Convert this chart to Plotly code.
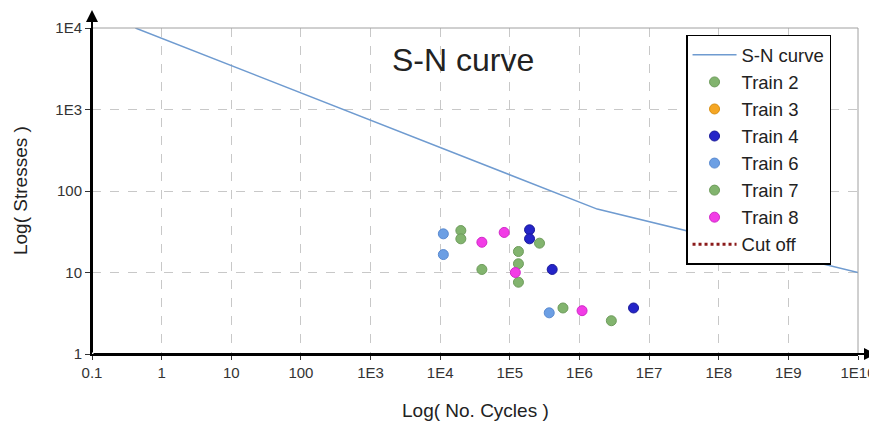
import plotly.graph_objects as go

# S-N curve vertices
sn_cycles = [0.42, 1.8e6, 1e10]
sn_stress = [1e4, 60, 10]

# Train data (cycles, stresses)
train2_cycles = [1.98e4, 1.98e4, 3.97e4, 1.33e5]
train2_stress = [32.7, 25.9, 10.9, 18.1]
train3_cycles = []
train3_stress = []
train4_cycles = [1.92e5, 1.92e5, 4.06e5, 5.98e6]
train4_stress = [33.4, 25.9, 10.9, 3.67]
train6_cycles = [1.11e4, 1.11e4, 3.68e5]
train6_stress = [29.8, 16.6, 3.2]
train7_cycles = [1.33e5, 1.33e5, 2.67e5, 5.8e5, 2.87e6]
train7_stress = [12.8, 7.6, 22.9, 3.67, 2.56]
train8_cycles = [3.97e4, 8.3e4, 1.2e5, 1.09e6]
train8_stress = [23.5, 31.0, 10.0, 3.4]

x_tickvals = [0.1, 1, 10, 100, 1e3, 1e4, 1e5, 1e6, 1e7, 1e8, 1e9, 1e10]
x_ticktext = ["0.1", "1", "10", "100", "1E3", "1E4", "1E5", "1E6", "1E7", "1E8", "1E9", "1E10"]
y_tickvals = [1, 10, 100, 1e3, 1e4]
y_ticktext = ["1", "10", "100", "1E3", "1E4"]

FONT = "Liberation Sans, Arial, sans-serif"

fig = go.Figure()
fig.add_trace(go.Scatter(x=sn_cycles, y=sn_stress, mode="lines", name="S-N curve",
                         line=dict(color="#6f9bd0", width=1.5)))

def add_train(name, xs, ys, color, edge):
    fig.add_trace(go.Scatter(
        x=xs if xs else [None], y=ys if ys else [None], mode="markers", name=name,
        marker=dict(size=10, color=color, line=dict(color=edge, width=1))))

add_train("Train 2", train2_cycles, train2_stress, "#82b46e", "#6e9c5c")
add_train("Train 3", train3_cycles, train3_stress, "#f5a623", "#d88e10")
add_train("Train 4", train4_cycles, train4_stress, "#2424c8", "#1a1a9a")
add_train("Train 6", train6_cycles, train6_stress, "#6c9fe4", "#5a8ad0")
add_train("Train 7", train7_cycles, train7_stress, "#82b46e", "#6e9c5c")
add_train("Train 8", train8_cycles, train8_stress, "#f23ce6", "#d028c8")

fig.add_trace(go.Scatter(x=[None], y=[None], mode="lines", name="Cut off",
                         line=dict(color="#8b1a1a", width=3, dash="dot")))

grid = dict(gridcolor="#c8c8c8", griddash="dash", gridwidth=1)

fig.update_layout(
    width=869, height=415,
    margin=dict(l=84, r=19, t=20, b=69, autoexpand=False),
    paper_bgcolor="white", plot_bgcolor="white",
    font=dict(family=FONT, color="#222"),
    showlegend=True,
    legend=dict(x=0.7755, y=0.979, xanchor="left", yanchor="top",
                bgcolor="white", bordercolor="black", borderwidth=1.5,
                font=dict(size=18.5, family=FONT, color="#222"),
                itemwidth=44, tracegroupgap=0, entrywidth=110, entrywidthmode="pixels"),
    xaxis=dict(type="log", range=[-1, 10], tickvals=x_tickvals, ticktext=x_ticktext,
               tickfont=dict(size=15, color="#333"), ticks="outside", ticklen=4,
               tickcolor="#333", showline=True, linecolor="black", linewidth=2,
               mirror=False, zeroline=False, automargin=False,
               **grid),
    yaxis=dict(type="log", range=[0, 4], tickvals=y_tickvals, ticktext=y_ticktext,
               tickfont=dict(size=15, color="#333"), ticks="outside", ticklen=5,
               tickcolor="#333", showline=True, linecolor="black", linewidth=2,
               mirror=False, zeroline=False, automargin=False,
               **grid),
    annotations=[
        dict(text="S-N curve", x=0.484, y=0.903, xref="paper", yref="paper",
             xanchor="center", yanchor="middle",
             showarrow=False, font=dict(size=32, color="#222", family=FONT)),
        dict(text="Log( No. Cycles )", x=0.5, y=-0.172, xref="paper", yref="paper",
             xanchor="center", yanchor="middle",
             showarrow=False, font=dict(size=19, color="#222", family=FONT)),
        dict(text="Log( Stresses )", x=-0.094, y=0.503, xref="paper", yref="paper",
             xanchor="center", yanchor="middle",
             textangle=-90, showarrow=False, font=dict(size=19, color="#222", family=FONT)),
        dict(text="", x=0, y=1.055, xref="paper", yref="paper", ax=0, ay=344,
             showarrow=True, arrowhead=2, arrowsize=1.2, arrowwidth=2, arrowcolor="black"),
        dict(text="", x=1.0235, y=0, xref="paper", yref="paper", ax=-784, ay=0,
             showarrow=True, arrowhead=2, arrowsize=1.2, arrowwidth=2, arrowcolor="black"),
    ],
    shapes=[
        dict(type="line", xref="paper", yref="paper", x0=0, x1=1, y0=1, y1=1,
             line=dict(color="#a0a0a0", width=1)),
        dict(type="line", xref="paper", yref="paper", x0=1, x1=1, y0=0, y1=1,
             line=dict(color="#a0a0a0", width=1)),
    ],
)

fig.write_html("out.html")
